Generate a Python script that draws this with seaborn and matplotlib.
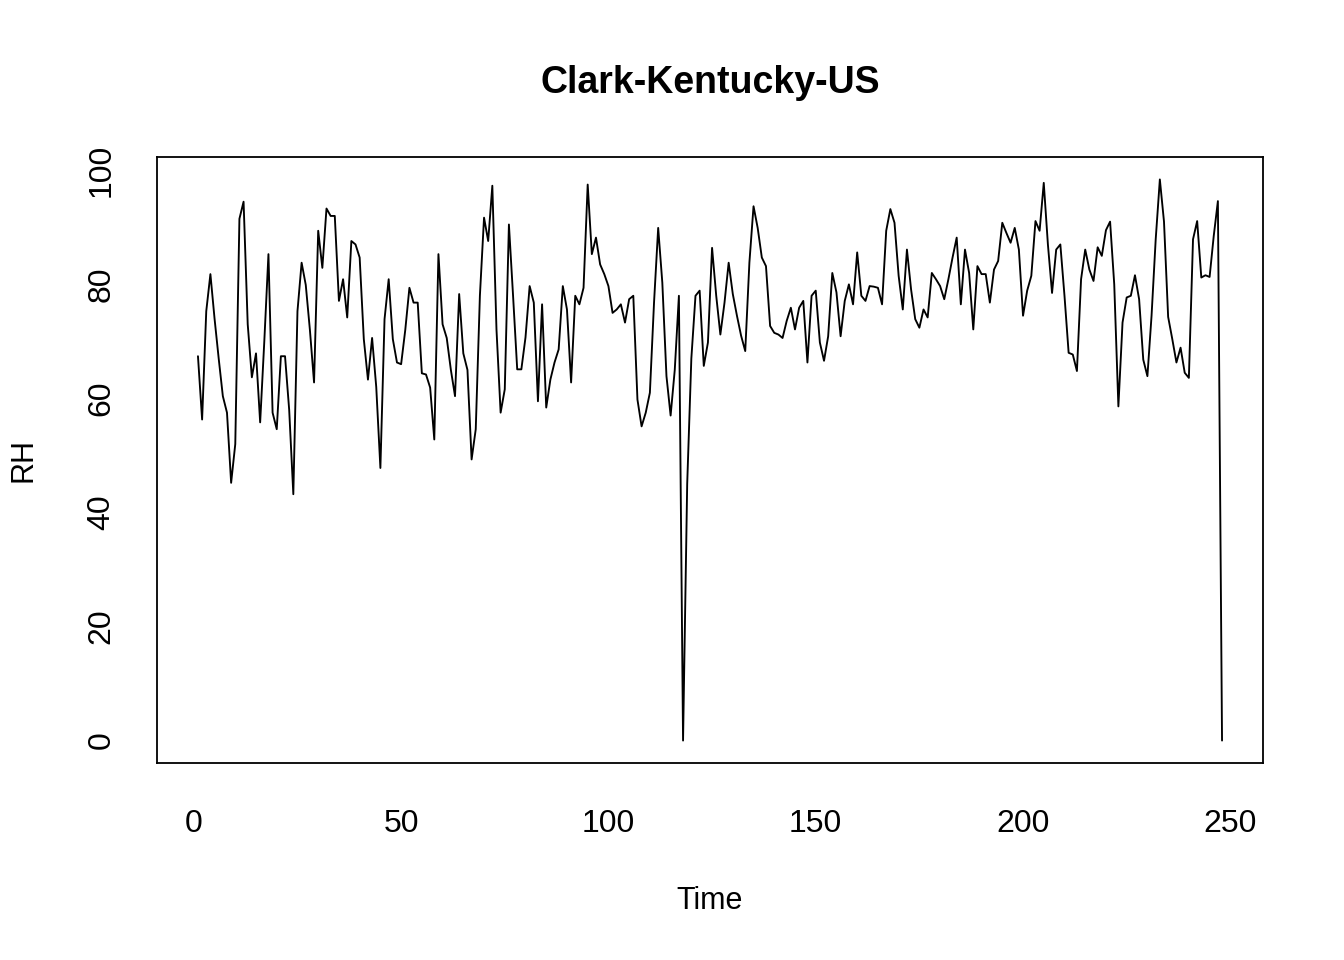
import matplotlib
matplotlib.use("Agg")
import matplotlib.pyplot as plt
import seaborn as sns
import numpy as np
import pandas as pd

title = "Clark-Kentucky-US"
x_label = "Time"
y_label = "RH"

rh_1_50 = [67.4, 56.3, 75.3, 81.8, 74, 67, 60.4, 57.5, 45.2, 52,
           91.5, 94.5, 73, 63.7, 67.9, 55.8, 70, 85.3, 57.5, 54.6,
           67.4, 67.4, 58, 43.2, 75.3, 83.8, 79.9, 72, 62.8, 89.4,
           82.9, 93.3, 92.0, 92.0, 77.1, 80.9, 74.2, 87.6, 87, 84.7,
           70.4, 63.3, 70.6, 62, 47.8, 73.9, 80.9, 70.4, 66.3, 66]
rh_51_100 = [72, 79.4, 76.8, 76.8, 64.4, 64.2, 61.9, 52.8, 85.3, 73,
             70.6, 65, 60.4, 78.3, 67.9, 65, 49.3, 54.6, 78, 91.7,
             87.6, 97.3, 72.1, 57.5, 61.6, 90.5, 78, 65.1, 65.1, 70.7,
             79.7, 76.8, 59.5, 76.5, 58.4, 63.3, 66.3, 68.6, 79.7, 75.6,
             62.8, 78, 76.5, 79.4, 97.5, 85.3, 88.2, 83.5, 81.8, 79.7]
rh_101_150 = [75, 75.6, 76.5, 73.3, 77.4, 78, 59.8, 55.1, 57.5, 61,
              76.8, 89.9, 80.3, 63.9, 57, 65, 78, 0, 45, 67,
              78, 78.9, 65.7, 69.8, 86.4, 78, 71.2, 76.8, 83.8, 78.3,
              74.5, 71, 68.3, 83.8, 93.7, 89.9, 84.7, 83.2, 72.7, 71.5,
              71.2, 70.6, 73.6, 75.9, 72.1, 75.9, 77.1, 66.3, 78, 78.9]
rh_151_200 = [69.8, 66.6, 70.9, 82, 78.6, 70.9, 77.1, 80, 76.5, 85.6,
              78, 77.1, 79.7, 79.6, 79.4, 76.5, 89.4, 93.2, 90.8, 81.5,
              75.6, 86.1, 79.1, 73.9, 72.4, 75.6, 74.2, 82, 80.9, 79.7,
              77.4, 80.9, 84.7, 88.2, 76.5, 86.1, 82, 72.1, 83.2, 81.8,
              81.8, 76.8, 82.6, 84.1, 90.8, 89, 87.3, 89.9, 86.1, 74.5]
rh_201_248 = [78.9, 81.5, 91.1, 89.4, 97.8, 87, 78.5, 86.1, 87, 78,
              68, 67.7, 64.8, 80.9, 86.1, 82.6, 80.6, 86.5, 85, 89.5,
              91, 80, 58.6, 73.3, 77.7, 78, 81.6, 77.4, 66.8, 63.9,
              74.5, 87.9, 98.4, 91, 74.3, 70.4, 66.3, 68.9, 64.5, 63.6,
              87.9, 91.1, 81.2, 81.6, 81.3, 88.5, 94.6, 0]

rh = rh_1_50 + rh_51_100 + rh_101_150 + rh_151_200 + rh_201_248
time = list(range(1, len(rh) + 1))
x_ticks = [0, 50, 100, 150, 200, 250]
y_ticks = [0, 20, 40, 60, 80, 100]

df = pd.DataFrame({"Time": time, "RH": rh})

sns.set_theme(style="white")
plt.rcParams["font.family"] = ["Liberation Sans", "DejaVu Sans"]

fig = plt.figure(figsize=(13.44, 9.6), dpi=100)
ax = fig.add_axes([157 / 1344, 1 - 763 / 960, (1263 - 157) / 1344, (763 - 157) / 960])

sns.lineplot(data=df, x="Time", y="RH", color="black", linewidth=1.35, ax=ax)

xr = max(time) - min(time)
ax.set_xlim(min(time) - 0.04 * xr, max(time) + 0.04 * xr)
yr = max(rh) - min(rh)
ax.set_ylim(min(rh) - 0.04 * yr, max(rh) + 0.04 * yr)

ax.set_xticks(x_ticks)
ax.set_yticks(y_ticks)
ax.set_xticklabels([str(v) for v in x_ticks])
ax.set_yticklabels([str(v) for v in y_ticks], rotation=90, va="center")

for s in ax.spines.values():
    s.set_visible(True)
    s.set_color("black")
    s.set_linewidth(1.3)

ax.tick_params(axis="both", which="major", direction="out", length=13, width=1.3,
               color="black", labelsize=23, labelcolor="black")
ax.tick_params(axis="x", pad=20)
ax.tick_params(axis="y", pad=16)

ax.set_xlabel(x_label, fontsize=22, color="black")
ax.set_ylabel(y_label, fontsize=22, color="black")
ax.xaxis.label.set_va("center")
ax.yaxis.label.set_va("center")
ax.xaxis.set_label_coords(0.5, (763 - 901) / 606)
ax.yaxis.set_label_coords((23 - 157) / 1106, 0.5)

ax.set_title(title, fontsize=27, fontweight="bold", color="black", pad=46)
ax.grid(False)

fig.savefig("out.png", dpi=100, facecolor="white")
